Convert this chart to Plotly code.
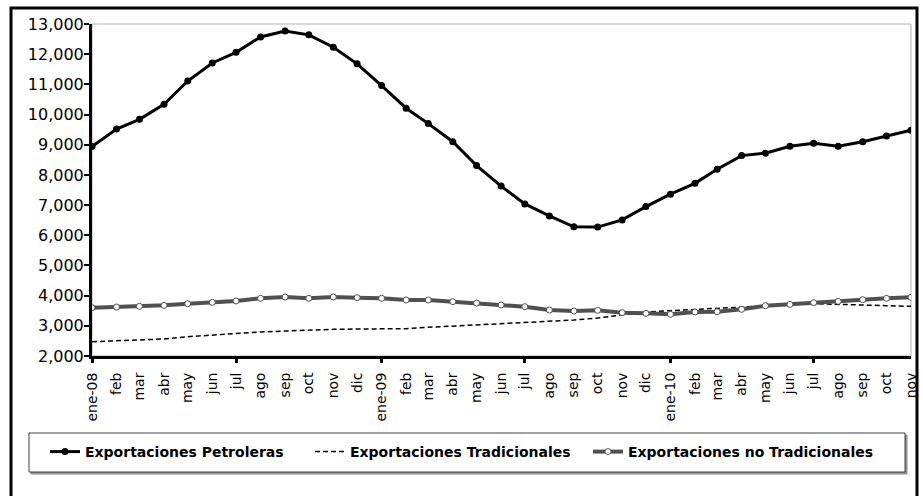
import pandas as pd
import plotly.graph_objects as go

meses = ["ene-08", "feb", "mar", "abr", "may", "jun", "jul", "ago", "sep", "oct", "nov", "dic",
         "ene-09", "feb", "mar", "abr", "may", "jun", "jul", "ago", "sep", "oct", "nov", "dic",
         "ene-10", "feb", "mar", "abr", "may", "jun", "jul", "ago", "sep", "oct", "nov"]
fechas = pd.date_range("2008-01-01", periods=len(meses), freq="MS")

petroleras = [8940, 9520, 9840, 10340, 11110, 11710, 12060, 12570, 12770, 12640, 12230, 11680,
              10960, 10210, 9700, 9100, 8310, 7630, 7040, 6640, 6280, 6270, 6510, 6950,
              7360, 7720, 8190, 8640, 8720, 8950, 9050, 8950, 9100, 9290, 9480]
tradicionales = [2474, 2497, 2530, 2563, 2640, 2696, 2751, 2795, 2828, 2861, 2883, 2894,
                 2894, 2905, 2950, 2994, 3027, 3060, 3104, 3148, 3192, 3259, 3348, 3458,
                 3502, 3546, 3580, 3623, 3667, 3700, 3733, 3722, 3689, 3667, 3645]
no_tradicionales = [3600, 3623, 3645, 3678, 3733, 3777, 3822, 3911, 3955, 3911, 3955, 3933,
                    3911, 3855, 3855, 3800, 3756, 3689, 3634, 3523, 3490, 3512, 3436, 3413,
                    3381, 3458, 3468, 3546, 3667, 3711, 3767, 3811, 3866, 3911, 3944]

W, H = 923, 496
L, R, T, B = 92, 12, 24, 140
pw, ph = W - L - R, H - T - B


def px_x(x):
    return (x - L) / pw


def px_y(y):
    return (H - B - y) / ph


fig = go.Figure()

fig.add_trace(go.Scatter(
    x=fechas, y=petroleras, name="Exportaciones Petroleras", mode="lines+markers",
    line=dict(color="black", width=3), marker=dict(color="black", size=7),
    legend="legend"))
fig.add_trace(go.Scatter(
    x=fechas, y=tradicionales, name="Exportaciones Tradicionales", mode="lines",
    line=dict(color="black", width=1.5, dash="5px,3px"),
    legend="legend2"))
fig.add_trace(go.Scatter(
    x=fechas, y=no_tradicionales, name="Exportaciones no Tradicionales", mode="lines+markers",
    line=dict(color="#505050", width=4),
    marker=dict(color="white", size=6, line=dict(color="#505050", width=1)),
    legend="legend3"))

legend_font = dict(family="DejaVu Sans", size=14, color="black", weight="bold")
legend_y = px_y(452)


def legend_at(x):
    return dict(x=px_x(x), y=legend_y, xanchor="left", yanchor="middle",
                orientation="h", bgcolor="rgba(0,0,0,0)", borderwidth=0,
                font=legend_font, visible=True)


shapes = [
    # plot area border (gray)
    dict(type="rect", xref="paper", yref="paper", x0=0, x1=1, y0=0, y1=1,
         line=dict(color="#b0b0b0", width=1), layer="below"),
    # outer frame
    dict(type="rect", xref="paper", yref="paper",
         x0=px_x(11), x1=px_x(917), y0=px_y(510), y1=px_y(8),
         line=dict(color="black", width=3)),
    # legend shadow and box
    dict(type="rect", xref="paper", yref="paper",
         x0=px_x(31), x1=px_x(907), y0=px_y(474), y1=px_y(435),
         line=dict(color="#909090", width=1), fillcolor="#909090", layer="below"),
    dict(type="rect", xref="paper", yref="paper",
         x0=px_x(29), x1=px_x(905), y0=px_y(472), y1=px_y(433),
         line=dict(color="#404040", width=1), fillcolor="white", layer="below"),
]

fig.update_layout(
    width=W, height=H,
    margin=dict(l=L, r=R, t=T, b=B, autoexpand=False),
    showlegend=True,
    paper_bgcolor="white",
    plot_bgcolor="white",
    font=dict(family="DejaVu Sans", color="black"),
    legend=legend_at(45),
    legend2=legend_at(310),
    legend3=legend_at(588),
    shapes=shapes,
    xaxis=dict(
        type="date",
        range=[fechas[0], fechas[-1]],
        tickvals=fechas,
        ticktext=meses,
        tickangle=-90,
        tickfont=dict(family="DejaVu Sans", size=14, color="black"),
        ticks="",
        showgrid=False,
        showline=True, linecolor="black", linewidth=3,
        zeroline=False,
        ticklabelstandoff=8,
        minor=dict(dtick="M6", tick0=fechas[0], ticks="outside", ticklen=4,
                   tickwidth=3, tickcolor="black", showgrid=False),
    ),
    yaxis=dict(
        range=[2000, 13000],
        dtick=1000,
        tickformat=",",
        tickfont=dict(family="DejaVu Sans", size=16, color="black"),
        ticks="outside", ticklen=5, tickwidth=2, tickcolor="black",
        ticklabelstandoff=-3,
        showgrid=False,
        showline=True, linecolor="black", linewidth=3,
        zeroline=False,
    ),
)

fig.write_html("out.html", config={"displayModeBar": False},
               post_script="document.body.style.margin='0';")
